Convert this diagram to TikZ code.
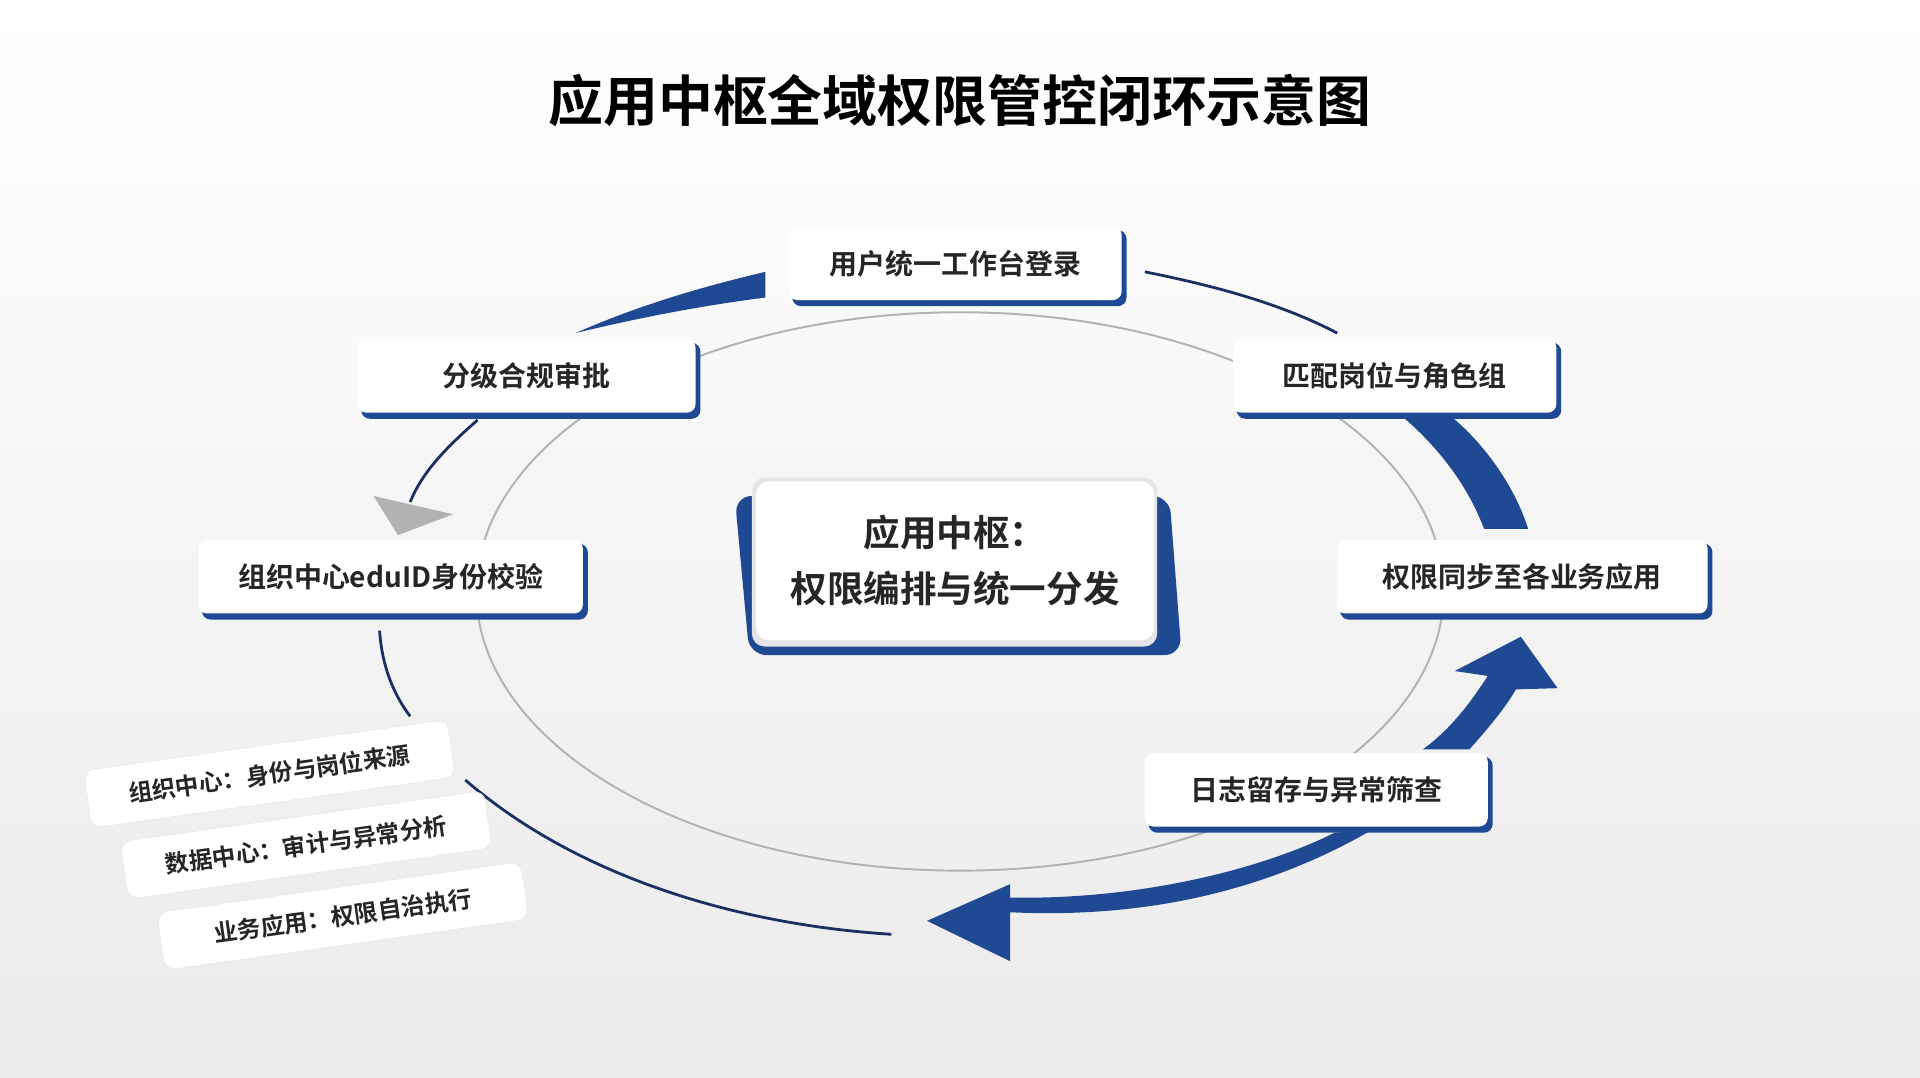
\documentclass[tikz,border=0pt]{standalone}
\usepackage{fontspec}
\setmainfont{Noto Sans CJK SC}
\newfontfamily\cjkb{Noto Sans CJK SC Bold}
\begin{document}
\definecolor{navy}{HTML}{1F4A93}
\definecolor{dnavy}{HTML}{1B2F63}
\begin{tikzpicture}[x=0.02cm,y=-0.02cm,
 box/.style={draw=none,fill=white,rounded corners=4pt,minimum height=1.2cm,font=\cjkb\fontsize{13}{15}\selectfont,text=black!85},
 card/.style={fill=white,rounded corners=5pt,draw=black!8,minimum width=6cm,minimum height=0.95cm,font=\cjkb\fontsize{11}{13}\selectfont,text=black!85},
 thin/.style={dnavy,line width=1.3pt},
 gring/.style={black!30,line width=0.9pt}]
\shade[top color=white,bottom color=black!8] (0,0) rectangle (1568,880);
\useasboundingbox (0,0) rectangle (1568,880);
\node[font=\cjkb\fontsize{25.5}{30}\selectfont] (title) at (784,82) {应用中枢全域权限管控闭环示意图};
% gray ring
\draw[gring] (784,483) ellipse [x radius=395, y radius=228];
% thin navy arcs
\draw[thin] (935,222) .. controls (1000,235) and (1050,250) .. (1092,272);
\draw[thin] (390,343) .. controls (365,365) and (345,385) .. (335,410);
\fill[black!30] (305,405) -- (370,420) -- (325,437) -- cycle;
\draw[thin] (310,515) .. controls (312,545) and (322,568) .. (335,585);
\draw[thin] (380,637) .. controls (470,715) and (600,755) .. (728,763);
% thick blue arcs
\fill[navy] (470,272) .. controls (520,250) and (570,235) .. (625,222) -- (625,243) .. controls (570,250) and (520,260) .. (470,272) -- cycle;
\fill[navy] (1145,340) -- (1185,340) .. controls (1215,365) and (1238,400) .. (1248,432) -- (1212,432) .. controls (1200,400) and (1178,368) .. (1145,340) -- cycle;
\fill[navy] (1162,612) -- (1200,612) .. controls (1215,595) and (1228,580) .. (1238,563) -- (1272,562) -- (1242,520) -- (1188,548) -- (1215,552) .. controls (1200,575) and (1185,595) .. (1162,612) -- cycle;
\fill[navy] (1120,678) .. controls (1030,730) and (930,750) .. (825,745) -- (825,785) -- (757,752) -- (825,722) -- (825,733) .. controls (930,735) and (1030,710) .. (1090,680) -- cycle;
% boxes
\foreach \n/\x/\y/\w/\t in {b1/781/216/272/用户统一工作台登录, b2/431/308/276/分级合规审批, b3/1140/308/264/匹配岗位与角色组, b4/320/472/314/组织中心eduID身份校验, b5/1244/472/303/权限同步至各业务应用, b6/1076/646/280/日志留存与异常筛查}{
 \fill[navy,rounded corners=4pt] ({\x-\w/2+2},{\y-28}) rectangle ({\x+\w/2+3},{\y+34});
 \node[box,minimum width=\w*0.02cm,minimum height=1.2cm] (\n) at ({\x-1},{\y-1}) {\t};
}
% center
\fill[navy, rounded corners=8pt] (600,405) -- (612,535) -- (965,535) -- (955,405) -- cycle;
\fill[black!10,rounded corners=6pt] (614,390) rectangle (945,528);
\node[fill=white,rounded corners=6pt,minimum width=6.5cm,minimum height=2.6cm,align=center,font=\cjkb\fontsize{17}{26}\selectfont,text=black!85] (c) at (780,458) {应用中枢：\\权限编排与统一分发};
% cards
\node[card,rotate=8] (k3) at (280,748) {业务应用：权限自治执行};
\node[card,rotate=8] (k2) at (250,690) {数据中心：审计与异常分析};
\node[card,rotate=8] (k1) at (220,632) {组织中心：身份与岗位来源};
\end{tikzpicture}
\end{document}
